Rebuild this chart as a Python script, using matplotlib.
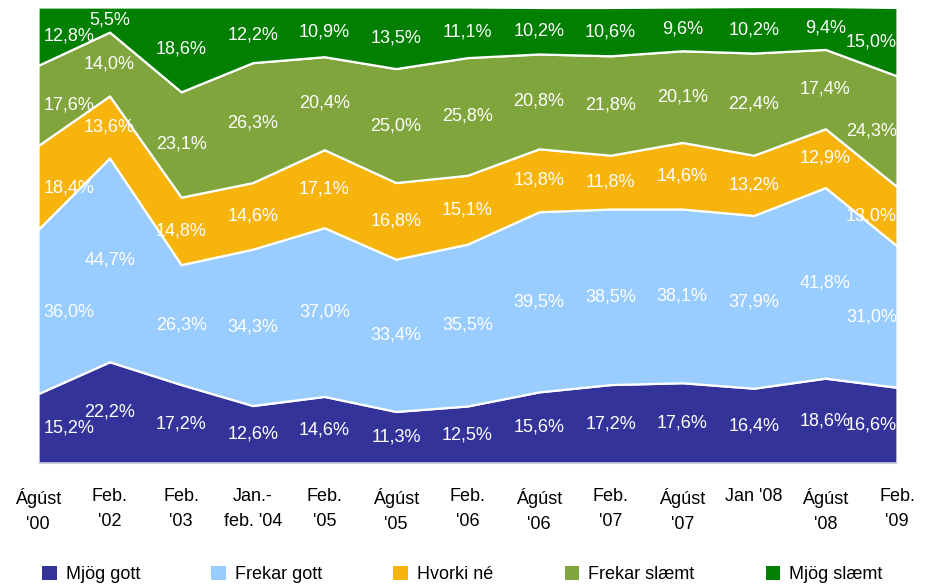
import matplotlib
matplotlib.use("Agg")
import matplotlib.pyplot as plt
import matplotlib.patches as patches
import numpy as np

plt.rcParams['font.family'] = ['Liberation Sans', 'DejaVu Sans']

# Survey periods
periods = ["Ágúst\n'00", "Feb.\n'02", "Feb.\n'03", "Jan.-\nfeb. '04", "Feb.\n'05",
           "Ágúst\n'05", "Feb.\n'06", "Ágúst\n'06", "Feb.\n'07", "Ágúst\n'07",
           "Jan '08\n", "Ágúst\n'08", "Feb.\n'09"]

# Shares (%) per answer, bottom to top
mjog_gott = [15.2, 22.2, 17.2, 12.6, 14.6, 11.3, 12.5, 15.6, 17.2, 17.6, 16.4, 18.6, 16.6]
frekar_gott = [36.0, 44.7, 26.3, 34.3, 37.0, 33.4, 35.5, 39.5, 38.5, 38.1, 37.9, 41.8, 31.0]
hvorki_ne = [18.4, 13.6, 14.8, 14.6, 17.1, 16.8, 15.1, 13.8, 11.8, 14.6, 13.2, 12.9, 13.0]
frekar_slaemt = [17.6, 14.0, 23.1, 26.3, 20.4, 25.0, 25.8, 20.8, 21.8, 20.1, 22.4, 17.4, 24.3]
mjog_slaemt = [12.8, 5.5, 18.6, 12.2, 10.9, 13.5, 11.1, 10.2, 10.6, 9.6, 10.2, 9.4, 15.0]

series = [mjog_gott, frekar_gott, hvorki_ne, frekar_slaemt, mjog_slaemt]
names = ["Mjög gott", "Frekar gott", "Hvorki né", "Frekar slæmt", "Mjög slæmt"]
colors = ['#333399', '#99ccff', '#f7b40c', '#80a53c', '#007f00']

fig = plt.figure(figsize=(9.3, 5.85), dpi=100)
ax = fig.add_axes([38/930, 1 - 463/585, (897 - 38)/930, (463 - 7)/585])

x = np.arange(len(periods))
ax.stackplot(x, *series, colors=colors, edgecolor='white', linewidth=1.6)

# value labels in the middle of each band
data = np.array(series)
bottoms = np.vstack([np.zeros(len(x)), np.cumsum(data, axis=0)[:-1]])
for s in range(len(series)):
    for i in x:
        v = data[s, i]
        y = bottoms[s, i] + v / 2
        xi, ha = i, 'center'
        if i == 0:
            xi, ha = 0.08, 'left'
        elif i == len(x) - 1:
            xi, ha = len(x) - 1.0, 'right'
        ax.text(xi, y, f"{v:.1f}%".replace('.', ','), ha=ha, va='center',
                color='white', fontsize=13)

ax.set_xlim(0, len(x) - 1)
ax.set_ylim(0, 100)
ax.set_yticks([])
ax.set_xticks(x)
ax.set_xticklabels(periods, fontsize=13, linespacing=1.6)
ax.tick_params(axis='x', length=0, pad=18)
for sp in ['top', 'right', 'left']:
    ax.spines[sp].set_visible(False)
ax.spines['bottom'].set_color('#d0d0e0')

handles = [patches.Patch(facecolor=c, edgecolor='none') for c in colors]
fig.legend(handles, names, loc='lower left', bbox_to_anchor=(0.028, -0.025), ncol=5,
           frameon=False, fontsize=13, handlelength=0.8, handleheight=0.8,
           handletextpad=0.5, columnspacing=3.95)

fig.savefig('out.png', dpi=100)
